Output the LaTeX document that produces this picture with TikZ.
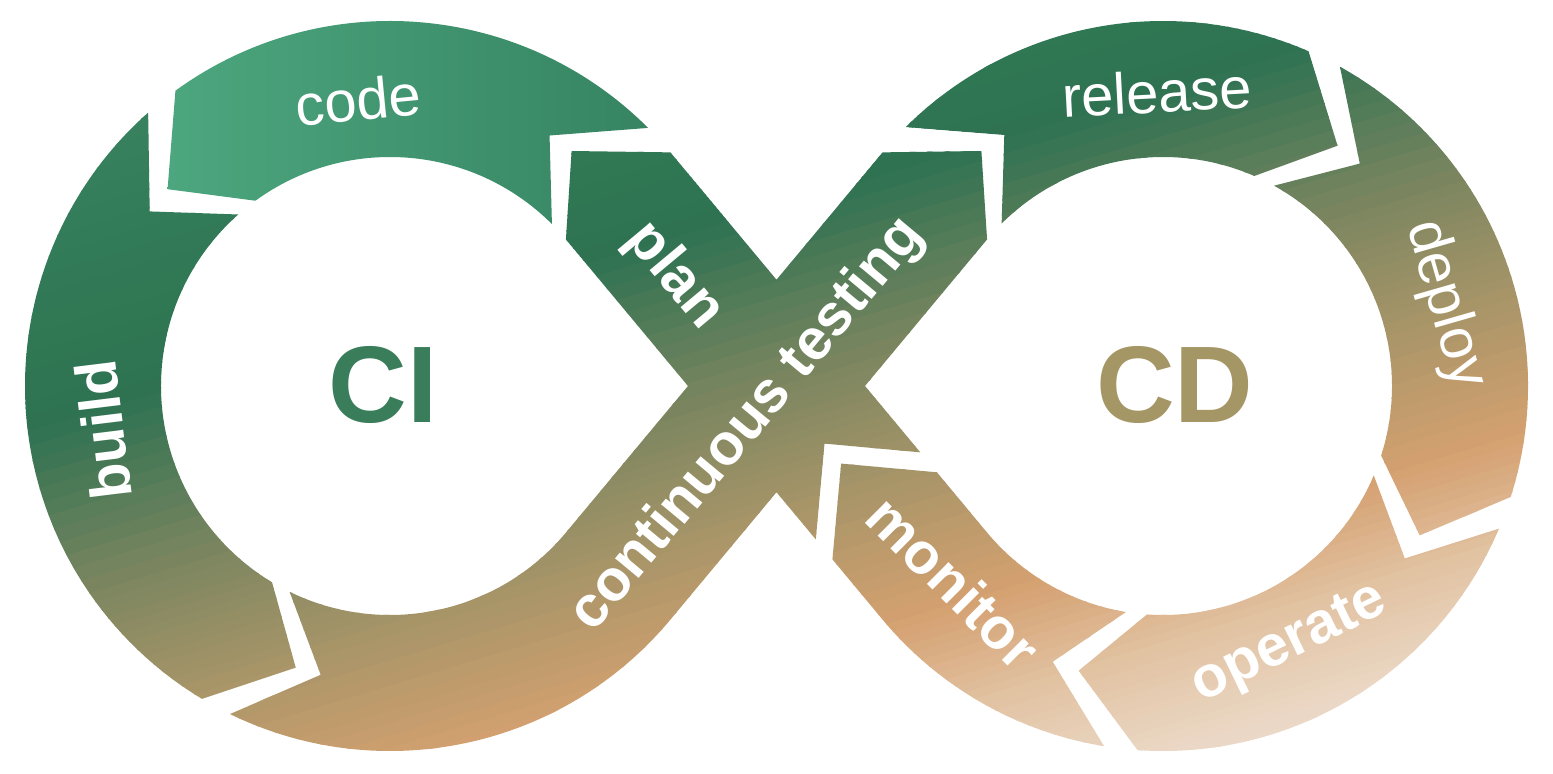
\documentclass[tikz,border=0pt]{standalone}
\usepackage{fontspec}
\setmainfont{Liberation Sans}
\usetikzlibrary{calc}

\definecolor{g0}{HTML}{3D8C68}
\definecolor{g1}{HTML}{37825F}
\definecolor{g2}{HTML}{2F7553}
\definecolor{g3}{HTML}{2E7252}
\definecolor{g4}{HTML}{7D8660}
\definecolor{g5}{HTML}{A59468}
\definecolor{g6}{HTML}{D4A070}
\definecolor{g7}{HTML}{E2C3A3}
\definecolor{g8}{HTML}{EAD7C4}
\definecolor{g9}{HTML}{EEE0D2}
\definecolor{codeleft}{HTML}{4CA67E}
\definecolor{coderight}{HTML}{368462}
\definecolor{cigreen}{HTML}{3A7D5A}
\definecolor{cdtan}{HTML}{A49665}

% ring radii and chevron depth
\def\Ro{3.65}
\def\Rm{2.97}
\def\Ri{2.29}
\def\tipd{12.5}

% piece of the left ring, counter clockwise from #1 to #2
\newcommand\leftpiece[2]{($(CL)+(#1:\Ro)$) arc[start angle=#1, end angle=#2, radius=\Ro]
  -- ($(CL)+({#2+\tipd}:\Rm)$) -- ($(CL)+(#2:\Ri)$) arc[start angle=#2, end angle=#1, radius=\Ri]
  -- ($(CL)+({#1+\tipd}:\Rm)$) -- cycle}
% piece of the right ring, clockwise from #1 to #2
\newcommand\rightpiece[2]{($(CR)+(#1:\Ro)$) arc[start angle=#1, end angle=#2, radius=\Ro]
  -- ($(CR)+({#2-\tipd}:\Rm)$) -- ($(CR)+(#2:\Ri)$) arc[start angle=#2, end angle=#1, radius=\Ri]
  -- ($(CR)+({#1-\tipd}:\Rm)$) -- cycle}

\begin{document}
\begin{tikzpicture}[
    lbl/.style={text=white, font=\fontsize{16.5}{16.5}\selectfont},
    lblb/.style={text=white, font=\fontsize{16.5}{16.5}\selectfont\bfseries},
    loopname/.style={font=\fontsize{31}{31}\selectfont\bfseries}]
  \useasboundingbox (-7.765,-3.88) rectangle (7.765,3.86);
  \coordinate (CL) at (-3.865,0);
  \coordinate (CR) at (3.865,0);

  \begin{scope}
    \clip
      % plan
      ($(129.8:-1.43)+(219.8:0.68)$) -- (129.8:-0.75) -- ($(129.8:-1.43)+(39.8:0.68)$)
        -- ($(CL)+(39.8:\Ro)$) -- ($(CL)+({39.8+\tipd}:\Rm)$) -- ($(CL)+(39.8:\Ri)$) -- cycle
      % build
      \leftpiece{131.5}{239}
      % continuous testing
      ($(CL)+(244:\Ro)$) arc[start angle=244, end angle=320.2, radius=\Ro]
        -- ($(CR)+(140.2:\Ri)$) -- ($(CR)+({140.2-\tipd}:\Rm)$) -- ($(CR)+(140.2:\Ro)$)
        -- ($(CL)+(320.2:\Ri)$) arc[start angle=320.2, end angle=244, radius=\Ri]
        -- ($(CL)+({244+\tipd}:\Rm)$) -- cycle
      % release, deploy, operate
      \rightpiece{134.8}{66.5}
      \rightpiece{61}{-17.7}
      \rightpiece{-23}{-94}
      % monitor
      ($(CR)+(-99.3:\Ro)$) arc[start angle=-99.3, end angle=-140.2, radius=\Ro]
        -- ($(129.8:-1.69)+(219.8:0.68)$) -- (129.8:-1.01) -- ($(129.8:-1.69)+(39.8:0.68)$)
        -- ($(CR)+(-140.2:\Ri)$) arc[start angle=-140.2, end angle=-99.3, radius=\Ri]
        -- ($(CR)+({-99.3-\tipd}:\Rm)$) -- cycle;
    % colour runs from the top left to the bottom right
    \foreach \qa/\qb/\ca/\cb in {0.8/1.6/g0/g1, 1.6/3.8/g1/g2, 3.8/4.4/g2/g3, 4.4/6.2/g3/g4,
        6.2/7.4/g4/g5, 7.4/8.9/g5/g6, 8.9/10/g6/g7, 10/11/g7/g8, 11/12.4/g8/g9}
      \foreach \k in {0,...,11}{
        \pgfmathsetmacro\qs{\qa+(\qb-\qa)*\k/12}
        \pgfmathsetmacro\qe{\qa+(\qb-\qa)*(\k+1)/12+0.015}
        \pgfmathtruncatemacro\mix{100-(\k+0.5)*100/12}
        \fill[\ca!\mix!\cb] (-8,{3.79-\qs}) -- (8,{8.59-\qs}) -- (8,{8.59-\qe}) -- (-8,{3.79-\qe}) -- cycle;
      }
  \end{scope}
  % code is lighter
  \shade[left color=codeleft, right color=coderight] \leftpiece{45}{126};

  \node[lbl, rotate=5.5] (code) at (-4.185,2.86) {code};
  \node[lblb, rotate=-50.2] (plan) at (-1.02,1.1) {plan};
  \node[lblb, rotate=97] (build) at (-6.735,-0.44) {build};
  \node[lblb, rotate=50.2] (testing) at (-0.285,-0.39) {continuous testing};
  \node[lbl, rotate=3] (release) at (3.805,2.94) {release};
  \node[lbl, rotate=-74] (deploy) at (6.685,0.81) {deploy};
  \node[lblb, rotate=26] (operate) at (5.135,-2.59) {operate};
  \node[lblb, rotate=-45] (monitor) at (1.77,-1.96) {monitor};
  \node[loopname, text=cigreen] (ci) at (-3.935,0.01) {CI};
  \node[loopname, text=cdtan] (cd) at (3.985,0.01) {CD};
\end{tikzpicture}
\end{document}
